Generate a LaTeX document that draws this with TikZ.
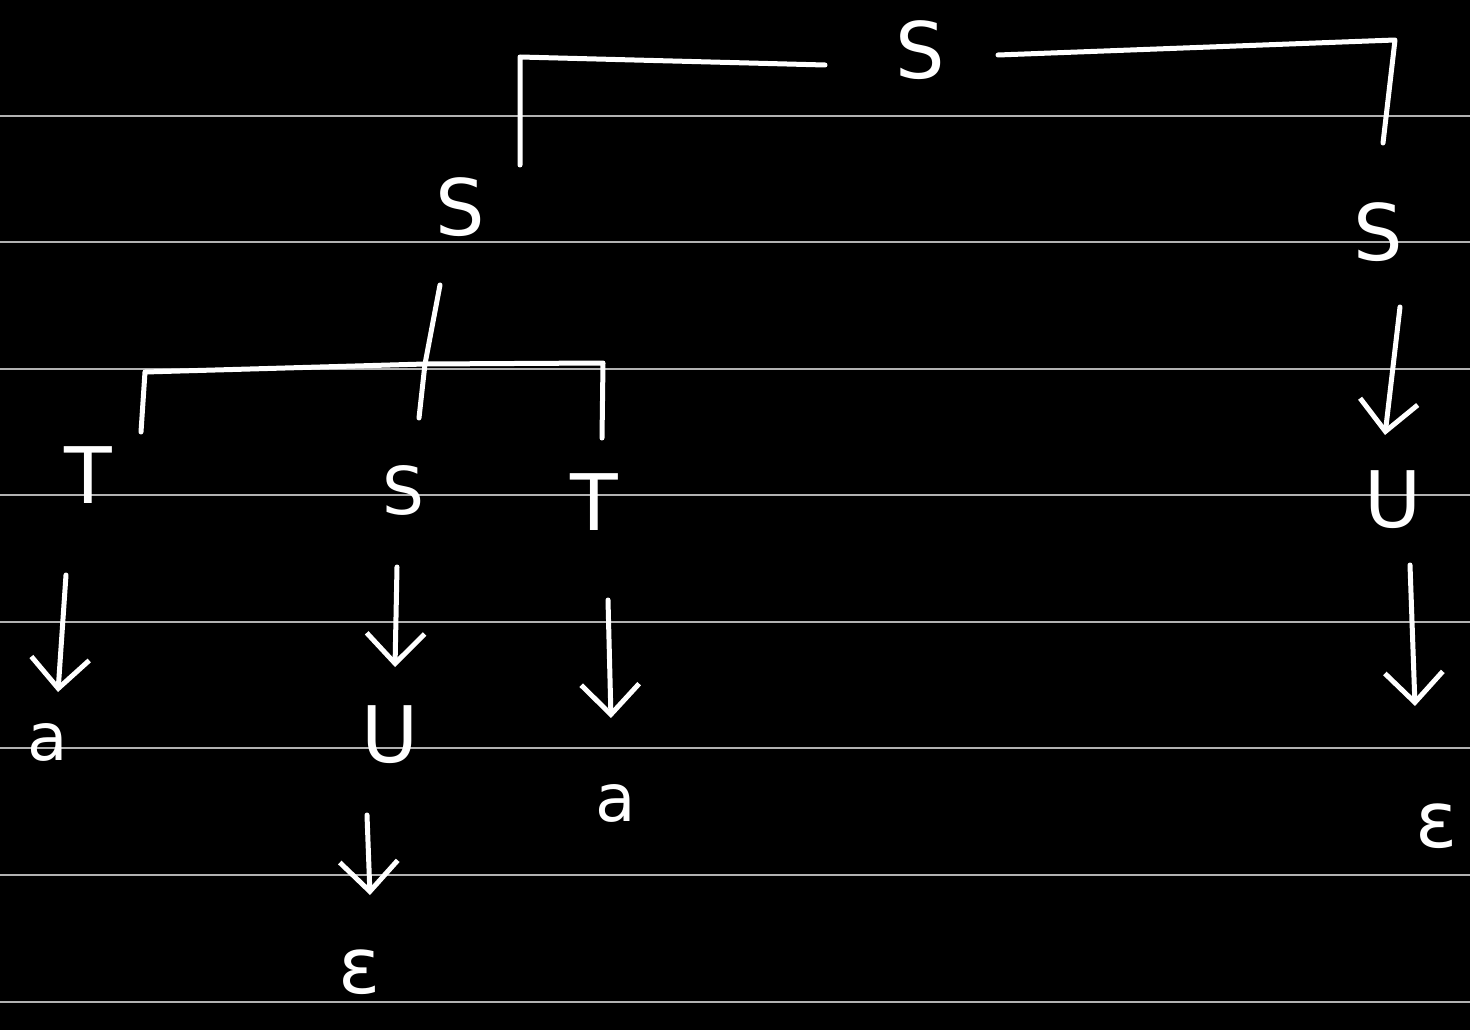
\documentclass[tikz,border=0pt]{standalone}
\usepackage{fontspec}
\setmainfont{DejaVu Sans}
\usetikzlibrary{arrows.meta,calc}
\tikzset{
  sym/.style={text=white,inner sep=0pt,font=\fontsize{78}{78}\selectfont},
  smallsym/.style={sym,font=\fontsize{66}{66}\selectfont},
  ln/.style={draw=white,line width=5pt,line cap=round,line join=round},
  arr/.style={ln,-{Straight Barb[length=30pt,width=58pt,line width=5pt]}},
  rule/.style={draw=gray!60,line width=2pt}
}
\begin{document}
\begin{tikzpicture}[x=1pt,y=-1pt]
\fill[black] (0,0) rectangle (1470,1030);
\useasboundingbox (0,0) rectangle (1470,1030);
\foreach \yy in {116,242,369,495,622,748,875,1002}{
  \draw[rule] (0,\yy) -- (1470,\yy);
}
% nodes
\node[sym] (root) at (920,50) {S};
\node[sym] (sL) at (460,207) {S};
\node[sym] (sR) at (1378,232) {S};
\node[sym] (T1) at (88,475) {T};
\node[smallsym] (S2) at (403,490) {S};
\node[sym] (T2) at (594,502) {T};
\node[smallsym] (a1) at (48,742) {a};
\node[sym] (U1) at (390,735) {U};
\node[smallsym] (a2) at (616,803) {a};
\node[sym] (e1) at (360,972) {ε};
\node[sym] (U2) at (1393,500) {U};
\node[sym] (e2) at (1437,826) {ε};
% corner coordinates
\coordinate (rL) at (520,57);
\coordinate (rR) at (1395,40);
\coordinate (jn) at (425,364);
\coordinate (bL) at (145,372);
\coordinate (bR) at (603,363);
% root brackets
\draw[ln] ($(root)+(-95,15)$) -- (rL) -- ($(sL)+(60,-42)$);
\draw[ln] ($(root)+(78,5)$) -- (rR) -- ($(sR)+(5,-89)$);
% left S brackets
\draw[ln] ($(sL)+(-20,78)$) -- (jn);
\draw[ln] (jn) -- (bL) -- ($(T1)+(53,-43)$);
\draw[ln] (jn) -- (bR) -- ($(T2)+(8,-64)$);
\draw[ln] (jn) -- ($(S2)+(16,-72)$);
% arrows
\draw[arr] ($(T1)+(-22,100)$) -- ($(a1)+(10,-50)$);
\draw[arr] ($(S2)+(-6,77)$) -- ($(U1)+(5,-68)$);
\draw[arr] ($(T2)+(14,98)$) -- ($(a2)+(-5,-85)$);
\draw[arr] ($(U1)+(-23,80)$) -- ($(e1)+(10,-77)$);
\draw[arr] ($(sR)+(22,75)$) -- ($(U2)+(-8,-65)$);
\draw[arr] ($(U2)+(17,65)$) -- ($(e2)+(-22,-120)$);
\end{tikzpicture}
\end{document}
